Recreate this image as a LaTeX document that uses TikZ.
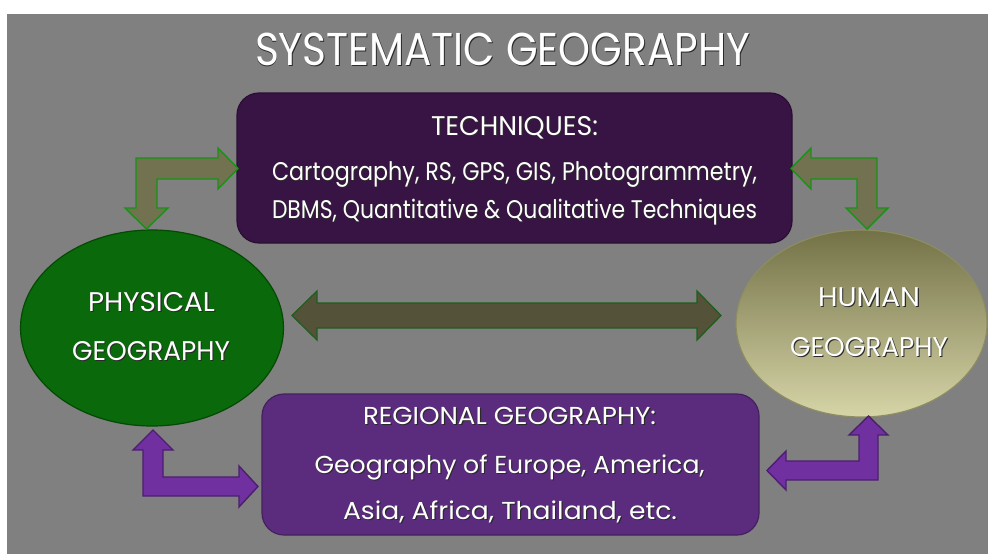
\documentclass[tikz,border=0pt]{standalone}
\usepackage{fontspec}
\usepackage{graphicx}
\setmainfont{Poppins}
\usetikzlibrary{shapes.geometric,calc}

\definecolor{slidegray}{HTML}{808080}
\definecolor{techfill}{HTML}{371443}
\definecolor{techrim}{HTML}{2A0E34}
\definecolor{regfill}{HTML}{5B2C7E}
\definecolor{regrim}{HTML}{44205F}
\definecolor{physfill}{HTML}{0A690A}
\definecolor{physrim}{HTML}{044A04}
\definecolor{humtop}{HTML}{737146}
\definecolor{humbot}{HTML}{D6D5A8}
\definecolor{humrim}{HTML}{8E8C62}
\definecolor{olivefill}{HTML}{737250}
\definecolor{greenrim}{HTML}{149414}
\definecolor{midfill}{HTML}{545238}
\definecolor{midrim}{HTML}{1E5E1E}
\definecolor{purplefill}{HTML}{7030A0}
\definecolor{purplerim}{HTML}{4C1F6E}
\definecolor{shadowc}{HTML}{2A2A2A}

% text with a small dark drop shadow
\newcommand\shd[1]{\makebox[0pt][l]{\raisebox{-1.1pt}{\hspace*{1.1pt}\textcolor{shadowc}{#1}}}#1}
% one line of text at a given size, stretched to a given width
\newlength\linew
\newcommand\fitline[3]{%
  \fontsize{#2}{#2}\selectfont
  \settowidth\linew{#3}%
  \pgfmathsetmacro\sx{#1/\linew}%
  \scalebox{\sx}[1]{\shd{#3}}}

\tikzset{
  panel/.style={rectangle, rounded corners=22pt, inner sep=0pt, line width=1.2pt},
  blob/.style={ellipse, inner sep=0pt, line width=1.2pt},
  txt/.style={text=white, inner sep=0pt, anchor=base},
  elbowolive/.style={fill=olivefill, draw=greenrim, line width=1.4pt, line join=miter},
  elbowpurple/.style={fill=purplefill, draw=purplerim, line width=1.4pt, line join=miter},
  midarrow/.style={fill=midfill, draw=midrim, line width=1.3pt, line join=miter},
}

\begin{document}
\begin{tikzpicture}[x=1pt,y=-1pt]
\useasboundingbox (0,0) rectangle (988,554);
\fill[white] (0,0) rectangle (988,554);
\fill[slidegray] (7,14) rectangle (988,554);

% title
\node[txt] (title) at (502.5,65) {\fitline{495}{46}{SYSTEMATIC GEOGRAPHY}};

% techniques panel
\node[panel, fill=techfill, draw=techrim, minimum width=555, minimum height=150] (tech) at (514.5,168) {};
\node[txt] (techA) at (514.5,135) {\fitline{167}{27}{TECHNIQUES:}};
\node[txt] (techB) at (514.5,180) {\fitline{485}{25.5}{Cartography, RS, GPS, GIS, Photogrammetry,}};
\node[txt] (techC) at (514.5,218) {\fitline{485}{25.5}{DBMS, Quantitative \& Qualitative Techniques}};

% regional panel
\node[panel, fill=regfill, draw=regrim, minimum width=497, minimum height=141] (reg) at (510.5,464.5) {};
\node[txt] (regA) at (509.5,424) {\fitline{293}{24.5}{REGIONAL GEOGRAPHY:}};
\node[txt] (regB) at (509.5,473) {\fitline{390}{24.5}{Geography of Europe, America,}};
\node[txt] (regC) at (510,519) {\fitline{334}{24.5}{Asia, Africa, Thailand, etc.}};

% physical geography
\node[blob, fill=physfill, draw=physrim, minimum width=263, minimum height=196] (phys) at (152,328) {};
\node[txt] (physA) at (151.5,311) {\fitline{127}{27}{PHYSICAL}};
\node[txt] (physB) at (151,360) {\fitline{158}{27}{GEOGRAPHY}};

% human geography
\node[blob, top color=humtop, bottom color=humbot, draw=humrim, minimum width=251, minimum height=187] (hum) at (861.5,323.5) {};
\node[txt] (humA) at (869,306) {\fitline{102}{27}{HUMAN}};
\node[txt] (humB) at (869,356) {\fitline{158}{27}{GEOGRAPHY}};

% double arrow between the two branches
\coordinate (mL) at (292,315.5);
\coordinate (mR) at (721,315.5);
\draw[midarrow] (mL) -- ++(25,-24.5) -- ++(0,12) -- ($(mR)+(-24,-12.5)$) -- ++(0,-12) -- (mR)
  -- ++(-24,24.5) -- ++(0,-12) -- ($(mL)+(25,12.5)$) -- ++(0,12) -- cycle;

% elbow arrows: techniques <-> physical / human
\draw[elbowolive] (136,158) -- (218,158) -- (218,148) -- (238,168.5) -- (218,189) -- (218,179)
  -- (157,179) -- (157,208) -- (168,208) -- (146.5,229) -- (125,208) -- (136,208) -- cycle;
\draw[elbowolive] (877,158) -- (811,158) -- (811,148) -- (791,168.5) -- (811,189) -- (811,179)
  -- (857,179) -- (857,208) -- (846,208) -- (867,229) -- (888,208) -- (877,208) -- cycle;

% elbow arrows: regional <-> physical / human
\draw[elbowpurple] (143,496) -- (143,450) -- (133,450) -- (153,430) -- (173,450) -- (163,450)
  -- (163,477) -- (239,477) -- (239,466) -- (258,486.5) -- (239,507) -- (239,496) -- cycle;
\draw[elbowpurple] (878,480) -- (878,435) -- (888,435) -- (868.5,416) -- (849,435) -- (859,435)
  -- (859,461) -- (786,461) -- (786,451) -- (767,470.5) -- (786,490) -- (786,480) -- cycle;
\end{tikzpicture}
\end{document}
